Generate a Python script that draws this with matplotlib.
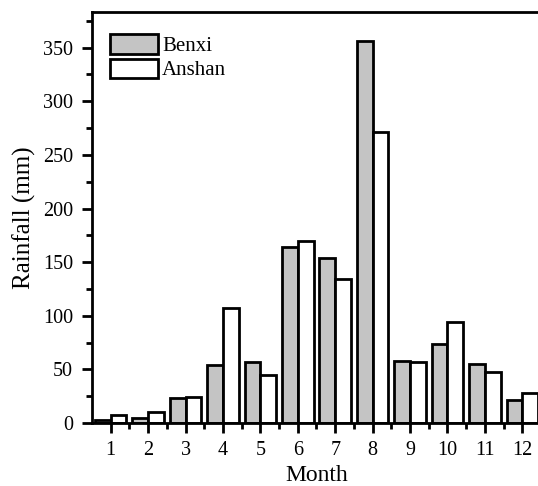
import matplotlib

matplotlib.use("Agg")
import matplotlib.pyplot as plt
import numpy as np

months = list(range(1, 13))
benxi = [3, 5, 23, 54, 57, 164, 154, 356, 58, 74, 55, 21]
anshan = [7, 10, 24, 107, 45, 170, 134, 271, 57, 94, 48, 28]

GRAY = "#c4c4c4"
W = 0.42

plt.rcParams["font.family"] = ["Liberation Serif", "DejaVu Serif"]

fig = plt.figure(figsize=(5.38, 4.86), dpi=100)
ax = fig.add_axes([92 / 538, 63 / 486, 449 / 538, 411.3 / 486])

x = np.array(months)
ax.bar(x - W / 2, benxi, W, color=GRAY, edgecolor="black", lw=2, label="Benxi")
ax.bar(x + W / 2, anshan, W, color="white", edgecolor="black", lw=2, label="Anshan")

ax.set_xlim(0.5, 12.5)
ax.set_ylim(0, 383.5)
ax.set_xticks(months)
ax.set_xticks(x + 0.5, minor=True)
ax.set_yticks(np.arange(0, 351, 50))
ax.set_yticks(np.arange(25, 380, 50), minor=True)

for s in ax.spines.values():
    s.set_linewidth(2)
ax.tick_params(which="major", direction="out", length=7, width=2, labelsize=14.5, pad=6.5)
ax.tick_params(which="minor", direction="out", length=4, width=2)
ax.tick_params(axis="x", which="major", pad=6)

ax.set_xlabel("Month", fontsize=17, labelpad=3.5)
ax.set_ylabel("Rainfall (mm)", fontsize=18, labelpad=5)

ax.legend(loc="upper left", frameon=False, fontsize=15, handlelength=2.3,
          handleheight=1.05, handletextpad=0.2, labelspacing=0.12,
          borderaxespad=0.0, bbox_to_anchor=(0.022, 0.965))

fig.savefig("out.png", dpi=100)
